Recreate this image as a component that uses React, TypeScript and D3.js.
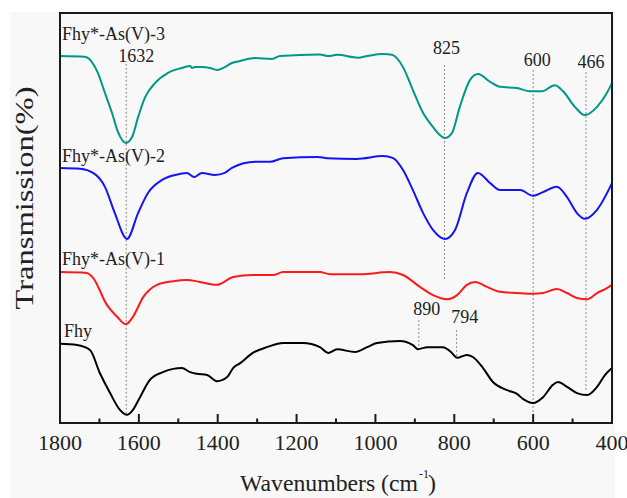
import React from 'react';
import * as d3 from 'd3';

// spectra: [wavenumber (cm-1), transmission (offset, a.u.)]
const fhyAs3 = [
  [1800, 89.5], [1737, 89.3], [1719, 88.0], [1704, 85.4], [1686, 80.5], [1668, 75.6],
  [1653, 71.0], [1633, 68.3], [1617, 69.8], [1602, 74.6], [1584, 79.5], [1559, 82.9],
  [1526, 85.4], [1491, 86.6], [1470, 87.1], [1465, 86.6], [1458, 86.8], [1440, 86.8],
  [1420, 86.6], [1402, 86.1], [1382, 86.8], [1364, 87.8], [1343, 88.3], [1305, 89.0],
  [1262, 88.8], [1242, 89.5], [1141, 89.9], [1120, 89.5], [1097, 89.8], [1044, 89.1],
  [1021, 89.5], [981, 90.0], [958, 89.8], [930, 86.8], [905, 81.2], [879, 75.6],
  [854, 72.2], [836, 70.2], [824, 69.5], [806, 70.7], [786, 77.1], [760, 83.7],
  [740, 85.1], [709, 83.2], [684, 82.0], [641, 81.7], [608, 80.9], [578, 80.9],
  [545, 82.4], [524, 80.9], [494, 77.1], [469, 75.1], [438, 77.1], [413, 80.5], [400, 82.9],
];

const fhyAs2 = [
  [1800, 62.2], [1749, 62.0], [1716, 61.0], [1686, 57.6], [1661, 51.2], [1630, 44.9],
  [1602, 51.2], [1577, 56.1], [1541, 59.3], [1508, 60.5], [1478, 61.0], [1460, 60.0],
  [1440, 61.0], [1407, 60.5], [1382, 61.0], [1364, 62.2], [1305, 63.7], [1267, 63.7],
  [1234, 64.6], [1146, 64.9], [1123, 64.6], [1047, 64.4], [981, 65.1], [955, 64.6],
  [930, 61.7], [905, 56.8], [879, 51.2], [854, 47.1], [824, 44.9], [798, 47.1],
  [768, 56.1], [740, 61.0], [709, 58.5], [684, 56.8], [633, 56.8], [600, 55.4],
  [575, 56.3], [540, 57.6], [514, 55.1], [489, 51.2], [469, 49.8], [438, 52.0], [400, 58.5],
];

const fhyAs1 = [
  [1800, 36.8], [1732, 36.6], [1716, 35.4], [1681, 28.8], [1655, 25.9], [1633, 24.1],
  [1615, 25.9], [1589, 30.7], [1554, 33.7], [1513, 34.6], [1478, 34.9], [1445, 34.4],
  [1402, 33.7], [1361, 35.6], [1311, 36.1], [1260, 36.1], [1234, 36.8], [1141, 36.8],
  [1115, 36.3], [1039, 36.3], [963, 36.8], [930, 36.1], [887, 33.2], [854, 31.2],
  [818, 30.2], [793, 31.2], [768, 33.7], [747, 34.4], [717, 33.2], [684, 32.0],
  [641, 31.7], [600, 31.5], [575, 31.7], [540, 32.7], [514, 31.7], [489, 30.5],
  [463, 30.2], [438, 31.7], [413, 32.9], [400, 33.7],
];

const fhy = [
  [1800, 19.3], [1757, 19.0], [1724, 17.8], [1699, 12.2], [1673, 7.3], [1648, 3.2],
  [1630, 2.0], [1615, 3.2], [1597, 6.3], [1572, 10.5], [1539, 12.4], [1513, 13.2],
  [1491, 13.4], [1470, 12.4], [1453, 12.0], [1427, 11.7], [1402, 10.2], [1376, 11.2],
  [1361, 13.4], [1343, 14.6], [1311, 17.1], [1275, 18.5], [1234, 19.5], [1184, 19.5],
  [1141, 18.5], [1120, 17.1], [1097, 18.0], [1052, 17.3], [1021, 18.5], [996, 19.5],
  [938, 20.0], [905, 19.0], [892, 18.0], [869, 18.5], [829, 18.5], [806, 17.1],
  [793, 15.9], [768, 16.6], [753, 16.1], [727, 13.4], [702, 10.0], [666, 8.0],
  [641, 7.1], [626, 5.9], [600, 4.9], [575, 6.3], [550, 9.3], [537, 10.0],
  [514, 8.8], [489, 7.3], [463, 6.8], [438, 8.8], [418, 11.7], [400, 13.4],
];

const seriesNames = ['Fhy*-As(V)-3', 'Fhy*-As(V)-2', 'Fhy*-As(V)-1', 'Fhy'];
const seriesData = [fhyAs3, fhyAs2, fhyAs1, fhy];
const seriesColors = ['#009688', '#1414f5', '#ff1a1a', '#000000'];
const seriesLabelT = [93.4, 63.7, 38.5, 21.0];

// peak markers: wavenumber, label baseline and dotted line extent (in transmission units)
const peakWn = [1632, 825, 600, 466, 890, 794];
const peakLabelT = [88.0, 90.0, 87.1, 86.6, 26.3, 24.4];
const peakLineTop = [87.6, 87.3, 86.1, 85.6, 25.1, 22.7];
const peakLineBottom = [2.4, 34.9, 1.2, 8.0, 18.3, 16.1];
const peakLabelDx = [10, 2, 4, 5, 8, 8];

const xTicks = [1800, 1600, 1400, 1200, 1000, 800, 600, 400];
const xMinorTicks = [1700, 1500, 1300, 1100, 900, 700, 500];

const W = 627, H = 498;
const m = { left: 60, top: 13, right: 612, bottom: 423 };
const serif = 'Liberation Serif';
const ink = '#222';

export default function App() {
  const x = d3.scaleLinear().domain([1800, 400]).range([m.left, m.right]);
  const y = d3.scaleLinear().domain([0, 100]).range([m.bottom, m.top]);
  const line = d3.line<number[]>()
    .x(d => x(d[0]))
    .y(d => y(d[1]))
    .curve(d3.curveMonotoneX);

  const txt = { fontFamily: serif, fill: ink };

  return (
    <svg width={W} height={H} style={{ position: 'absolute', left: 0, top: 0, background: '#fff' }}>
      <rect x={10} y={12} width={605} height={H - 12} fill="#f8f8f8" />

      {/* peak markers */}
      {peakWn.map((wn, i) => (
        <g key={'p' + wn}>
          <line x1={x(wn)} x2={x(wn)} y1={y(peakLineTop[i])} y2={y(peakLineBottom[i])}
            stroke="#8a8a8a" strokeWidth={1} strokeDasharray="2,2" />
          <text x={x(wn) + peakLabelDx[i]} y={y(peakLabelT[i])} textAnchor="middle"
            fontSize={18} style={txt}>{wn}</text>
        </g>
      ))}

      {/* spectra */}
      {seriesData.map((d, i) => (
        <path key={seriesNames[i]} d={line(d) || ''} fill="none"
          stroke={seriesColors[i]} strokeWidth={2} strokeLinejoin="round" />
      ))}

      {seriesNames.map((n, i) => (
        <text key={'l' + n} x={i === 3 ? 64 : 62} y={y(seriesLabelT[i])}
          fontSize={18} style={txt}>{n}</text>
      ))}

      {/* frame */}
      <rect x={m.left} y={m.top} width={m.right - m.left} height={m.bottom - m.top}
        fill="none" stroke="#1a1a1a" strokeWidth={2} />

      {/* inward ticks on bottom axis */}
      {xTicks.map(t => (
        <g key={'t' + t}>
          <line x1={x(t)} x2={x(t)} y1={m.bottom} y2={m.bottom - 9} stroke="#1a1a1a" strokeWidth={2} />
          <text x={x(t)} y={450} textAnchor="middle" fontSize={22} style={txt}>{t}</text>
        </g>
      ))}
      {xMinorTicks.map(t => (
        <line key={'mt' + t} x1={x(t)} x2={x(t)} y1={m.bottom} y2={m.bottom - 4.5}
          stroke="#1a1a1a" strokeWidth={2} />
      ))}

      {/* axis titles */}
      <text x={240} y={491} fontSize={24} style={txt} textLength={178} lengthAdjust="spacingAndGlyphs">
        Wavenumbers (cm
      </text>
      <text x={419} y={478} fontSize={12} style={txt}>-1</text>
      <text x={428} y={491} fontSize={24} style={txt}>)</text>

      <text transform={`translate(33,${198}) rotate(-90)`} textAnchor="middle" fontSize={25}
        style={txt} textLength={223} lengthAdjust="spacingAndGlyphs">Transmission(%)</text>
    </svg>
  );
}
